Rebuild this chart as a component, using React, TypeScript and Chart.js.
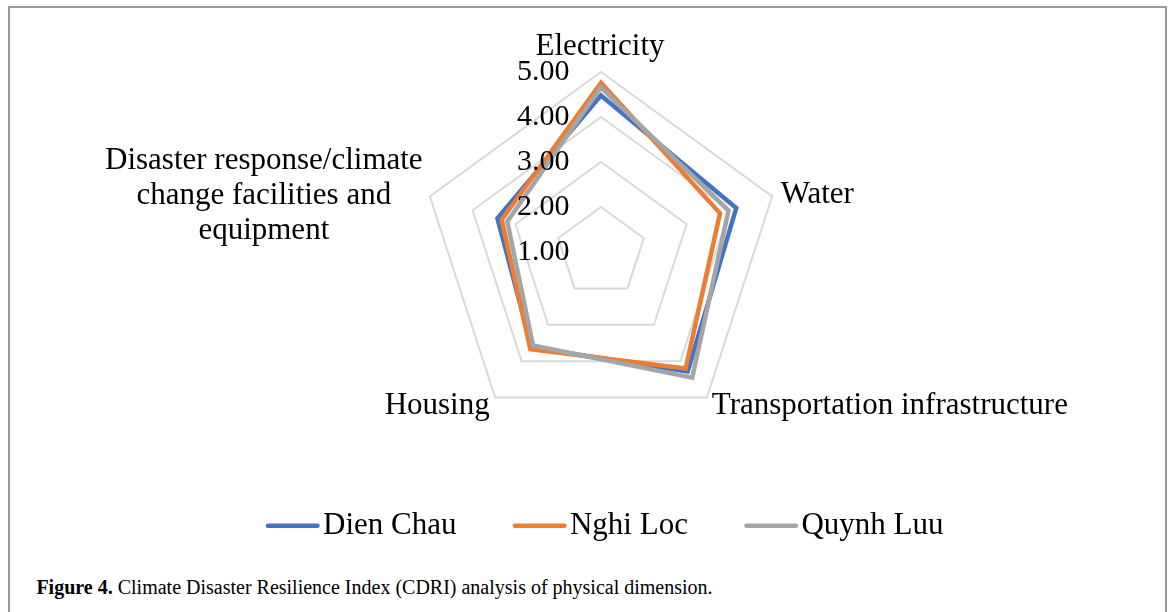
import React, { useEffect, useRef } from "react";
import { Chart, registerables } from "chart.js";

Chart.register(...registerables);

const categories: string[][] = [
  ["Electricity"],
  ["Water"],
  ["Transportation infrastructure"],
  ["Housing"],
  ["Disaster response/climate", "change facilities and", "equipment"],
];
const dienChau = [4.48, 4.16, 4.28, 3.62, 3.42];
const nghiLoc = [4.76, 3.78, 4.2, 3.67, 3.32];
const quynhLuu = [4.66, 3.98, 4.45, 3.57, 3.19];
const tickValues = [1, 2, 3, 4, 5];
const seriesNames = ["Dien Chau", "Nghi Loc", "Quynh Luu"];
const seriesColors = ["#4472C4", "#ED7D31", "#A5A5A5"];

const FONT = '"Liberation Serif", "Times New Roman", serif';

// label placement relative to each outer vertex
const labelSpecs = [
  { align: "center", dx: -1, dy: -16.7 },
  { align: "left", dx: 8.5, dy: 6.5 },
  { align: "left", dx: 5, dy: 16.6 },
  { align: "right", dx: -5.5, dy: 16.6 },
  { align: "center", dx: -166, dy: 7.5 },
];

const textPlugin = {
  id: "customText",
  afterDraw(chart: any) {
    const scale = chart.scales.r;
    const ctx = chart.ctx as CanvasRenderingContext2D;
    ctx.save();
    ctx.fillStyle = "#000";
    // tick labels
    ctx.font = `30px ${FONT}`;
    ctx.textAlign = "right";
    ctx.textBaseline = "middle";
    tickValues.forEach((v) => {
      const d = scale.getDistanceFromCenterForValue(v);
      ctx.fillText(v.toFixed(2), scale.xCenter - 31.5, scale.yCenter - d);
    });
    // point labels
    ctx.font = `31px ${FONT}`;
    ctx.textBaseline = "alphabetic";
    const R = scale.drawingArea;
    categories.forEach((lines, i) => {
      const p = scale.getPointPosition(i, R);
      const spec = labelSpecs[i];
      ctx.textAlign = spec.align as CanvasTextAlign;
      lines.forEach((line, j) => {
        ctx.fillText(line, p.x + spec.dx, p.y + spec.dy + (j - (lines.length - 1) / 2) * 35);
      });
    });
    // legend
    ctx.textAlign = "left";
    ctx.textBaseline = "middle";
    const ly = 517.7;
    let x = 256;
    chart.data.datasets.forEach((ds: any) => {
      ctx.strokeStyle = ds.borderColor;
      ctx.lineWidth = 4.5;
      ctx.lineCap = "round";
      ctx.beginPath();
      ctx.moveTo(x + 2, ly);
      ctx.lineTo(x + 51.5, ly);
      ctx.stroke();
      x += 57;
      ctx.fillText(ds.label, x, ly);
      x += ctx.measureText(ds.label).width + 56.5;
    });
    ctx.restore();
  },
};

export default function App() {
  const canvasRef = useRef<HTMLCanvasElement | null>(null);

  useEffect(() => {
    if (!canvasRef.current) return;
    const series = [dienChau, nghiLoc, quynhLuu];
    const chart = new Chart(canvasRef.current, {
      type: "radar",
      data: {
        labels: categories.map((c) => c.join(" ")),
        datasets: series.map((data, i) => ({
          label: seriesNames[i],
          data,
          borderColor: seriesColors[i],
          backgroundColor: seriesColors[i],
          borderWidth: 4.5,
          fill: false,
          pointRadius: 0,
          pointHoverRadius: 0,
          borderJoinStyle: "miter",
          order: 3 - i,
        })),
      },
      options: {
        responsive: true,
        maintainAspectRatio: false,
        animation: false,
        layout: { padding: { left: 28, right: 0, top: 64, bottom: 120 } },
        plugins: {
          legend: { display: false },
          tooltip: { enabled: false },
        },
        scales: {
          r: {
            min: 1,
            max: 5,
            ticks: { display: false, stepSize: 1 },
            grid: { color: "#D9D9D9", lineWidth: 2, circular: false },
            angleLines: { display: false },
            pointLabels: { display: false },
          },
        },
      },
      plugins: [textPlugin],
    } as any);
    return () => chart.destroy();
  }, []);

  return (
    <div
      style={{
        position: "fixed",
        left: 8,
        top: 6,
        width: 1159,
        height: 606,
        boxSizing: "border-box",
        borderTop: "2px solid #9a9a9a",
        borderLeft: "2px solid #9a9a9a",
        borderRight: "2px solid #9a9a9a",
        background: "#fff",
      }}
    >
      <div style={{ position: "absolute", left: 0, top: 0, width: 1155, height: 545 }}>
        <canvas ref={canvasRef} />
      </div>
      <div
        style={{
          position: "absolute",
          left: 26.4,
          top: 569,
          fontFamily: FONT,
          fontSize: 20,
          lineHeight: "20px",
          whiteSpace: "nowrap",
          color: "#000",
        }}
      >
        <b>Figure 4.</b> Climate Disaster Resilience Index (CDRI) analysis of physical dimension.
      </div>
    </div>
  );
}
